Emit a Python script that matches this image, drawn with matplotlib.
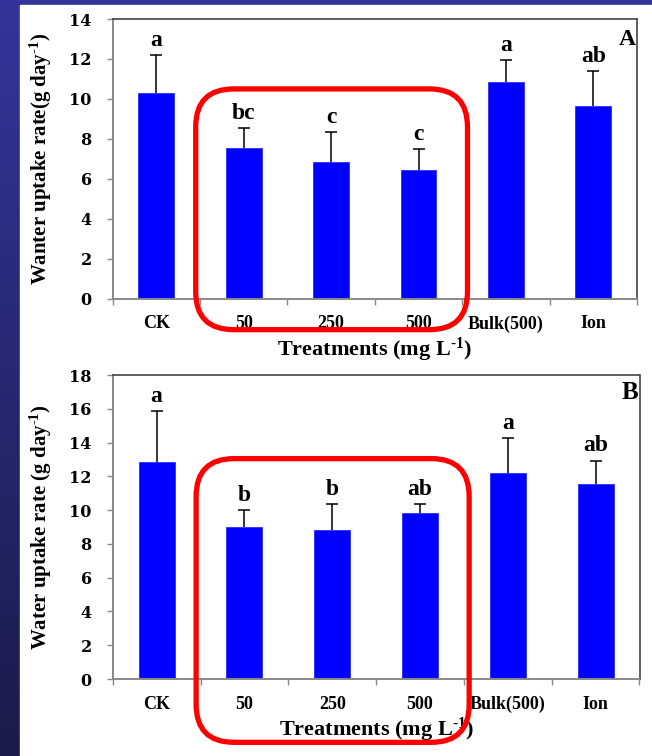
import numpy as np
import matplotlib
matplotlib.use("Agg")
import matplotlib.pyplot as plt
from matplotlib.patches import FancyBboxPatch, Rectangle

# ---- data ----
categories = ["CK", "50", "250", "500", "Bulk(500)", "Ion"]

uptake_a = [10.32, 7.55, 6.85, 6.43, 10.85, 9.63]
err_a = [1.86, 1.0, 1.48, 1.07, 1.10, 1.75]
letters_a = ["a", "bc", "c", "c", "a", "ab"]

uptake_b = [12.82, 9.01, 8.83, 9.80, 12.22, 11.53]
err_b = [3.06, 1.0, 1.55, 0.55, 2.06, 1.40]
letters_b = ["a", "b", "b", "ab", "a", "ab"]

ylim_a = (0, 14)
ylim_b = (0, 18)
yticks_a = [0, 2, 4, 6, 8, 10, 12, 14]
yticks_b = [0, 2, 4, 6, 8, 10, 12, 14, 16, 18]

ylabel_a = r"Wanter uptake rate(g day$^{\text{-1}}$)"
ylabel_b = r"Water uptake rate (g day$^{\text{-1}}$)"
xlabel = r"Treatments (mg L$^{\text{-1}}$)"

# nano-treatment group highlighted by the rounded frame (category span, value span)
group_x = (0.45, 3.56)
group_y_a = (-1.55, 10.5)
group_y_b = (-3.75, 13.05)

# ---- styling ----
plt.rcParams["font.family"] = ["Liberation Serif", "DejaVu Serif"]
plt.rcParams["font.weight"] = "bold"
plt.rcParams["mathtext.fontset"] = "custom"
plt.rcParams["mathtext.rm"] = "Liberation Serif:bold"
plt.rcParams["mathtext.bf"] = "Liberation Serif:bold"
plt.rcParams["mathtext.it"] = "Liberation Serif:bold"
plt.rcParams["mathtext.default"] = "rm"

W, H = 652, 756
fig = plt.figure(figsize=(W / 100, H / 100), dpi=100)

# slide background: blue gradient with a white content area
bg = fig.add_axes([0, 0, 1, 1], zorder=-10)
grad = np.linspace(0, 1, 256).reshape(-1, 1)
top_col = np.array([0x34, 0x34, 0x9a]) / 255
bot_col = np.array([0x1b, 0x1b, 0x4a]) / 255
img = top_col[None, None, :] * (1 - grad[:, :, None]) + bot_col[None, None, :] * grad[:, :, None]
bg.imshow(img, aspect="auto", extent=[0, 1, 0, 1], origin="upper")
bg.add_patch(Rectangle((20 / W, 0), 1, 1 - 5 / H, color="white", transform=bg.transAxes))
bg.set_xlim(0, 1)
bg.set_ylim(0, 1)
bg.axis("off")

x = np.arange(len(categories))


def panel(rect, vals, errs, letters, ylim, yticks, ylabel, tag, tag_size, tag_y, group_y):
    ax = fig.add_axes(rect)
    ax.bar(x, vals, width=0.41, color="#0000ff", edgecolor="#1a1aff", linewidth=0.5, zorder=2)
    _, caps, _ = ax.errorbar(x, vals, yerr=[np.zeros(len(vals)), errs], fmt="none",
                             ecolor="black", elinewidth=1.1, capsize=4.2, capthick=1.1,
                             zorder=3)
    caps[0].set_visible(False)  # upper-only error bars
    for xi, v, e, lt in zip(x, vals, errs, letters):
        ax.annotate(lt, (xi, v + e), xytext=(0, 3), textcoords="offset points",
                    ha="center", va="bottom", fontsize=17, fontweight="bold")
    ax.set_xlim(-0.5, len(categories) - 0.5)
    ax.set_ylim(*ylim)
    ax.set_yticks(yticks)
    ax.set_yticklabels([str(t) for t in yticks], fontfamily="DejaVu Serif",
                       fontweight="bold", fontsize=11.5)
    ax.tick_params(axis="y", direction="out", length=4, width=1, color="#888888", pad=11)
    # category boundaries carry the tick marks, centres carry the names
    ax.set_xticks(np.arange(len(categories) + 1) - 0.5)
    ax.set_xticklabels([])
    ax.set_xticks(x, minor=True)
    ax.set_xticklabels(categories, minor=True, fontsize=13, fontweight="bold")
    ax.tick_params(axis="x", which="major", direction="out", length=4, width=1, color="#888888")
    ax.tick_params(axis="x", which="minor", length=0, pad=12)
    for s in ("left", "bottom"):
        ax.spines[s].set_color("#888888")
        ax.spines[s].set_linewidth(1.4)
    for s in ("top", "right"):
        ax.spines[s].set_color("#444444")
        ax.spines[s].set_linewidth(1.2)
    ax.set_ylabel(ylabel, fontsize=15, fontweight="bold", labelpad=11)
    ax.set_xlabel(xlabel, fontsize=16, fontweight="bold", labelpad=2)
    ax.text(0.998, tag_y, tag, transform=ax.transAxes, ha="right", va="top",
            fontsize=tag_size, fontweight="bold")

    # rounded highlight frame; aspect keeps the corners circular on screen
    bbox = ax.get_window_extent()
    px_per_x = bbox.width / (ax.get_xlim()[1] - ax.get_xlim()[0])
    px_per_y = bbox.height / (ylim[1] - ylim[0])
    radius_px = 38
    frame = FancyBboxPatch((group_x[0], group_y[0]), group_x[1] - group_x[0],
                           group_y[1] - group_y[0],
                           boxstyle=f"round,pad=0,rounding_size={radius_px / px_per_x}",
                           mutation_aspect=px_per_x / px_per_y,
                           fill=False, edgecolor="#ff0000", linewidth=3.8,
                           clip_on=False, zorder=5)
    ax.add_patch(frame)
    return ax


ax_a = panel([112.7 / W, 1 - 298.7 / H, (637 - 112.7) / W, (298.7 - 19) / H],
             uptake_a, err_a, letters_a, ylim_a, yticks_a, ylabel_a, "A", 17, 0.965, group_y_a)
ax_b = panel([112.7 / W, 1 - 679 / H, (639.5 - 112.7) / W, (679 - 375) / H],
             uptake_b, err_b, letters_b, ylim_b, yticks_b, ylabel_b, "B", 18, 0.98, group_y_b)

fig.savefig("out.png", dpi=100)
